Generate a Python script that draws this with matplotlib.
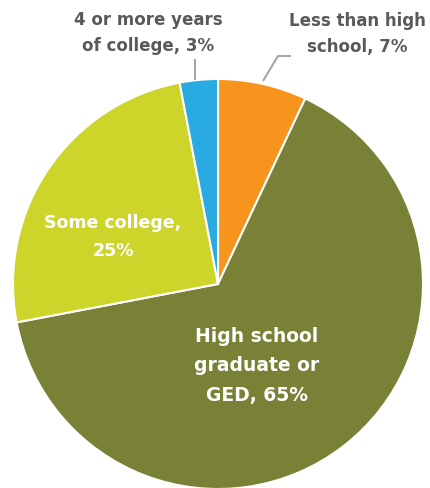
import matplotlib
matplotlib.use("Agg")
import matplotlib.pyplot as plt

categories = ["Less than high\nschool", "High school\ngraduate or\nGED", "Some college", "4 or more years\nof college"]
shares = [7, 65, 25, 3]
colors = ["#F7941D", "#788136", "#CDD42A", "#29ABE2"]

W, H, DPI = 430, 489, 100
fig = plt.figure(figsize=(W / DPI, H / DPI), dpi=DPI)
ax = fig.add_axes([0, 0, 1, 1])

wedges, _ = ax.pie(shares, colors=colors, startangle=90, counterclock=False,
                   radius=1.0, wedgeprops=dict(edgecolor="white", linewidth=1.5))

# pixel layout: centre (218, 285) from top-left, radius 205 px
cx, cy, r = 218, 285, 205
ax.set_xlim(-cx / r, (W - cx) / r)
ax.set_ylim(-(H - cy) / r, cy / r)
ax.axis("off")

def px(x, y):
    return (x - cx) / r, (cy - y) / r

font = dict(family=["DejaVu Sans"], fontweight="bold")
grey = "#595959"

# labels inside the two big slices
ax.text(*px(113, 237), "Some college,\n25%", color="white", fontsize=12.5,
        ha="center", va="center", linespacing=1.7, **font)
ax.text(*px(257, 366), "High school\ngraduate or\nGED, 65%", color="white", fontsize=13.5,
        ha="center", va="center", linespacing=1.7, **font)

# outside labels with leader lines
ax.text(*px(148, 33), "4 or more years\nof college, 3%", color=grey, fontsize=12,
        ha="center", va="center", linespacing=1.55, **font)
ax.text(*px(357, 34), "Less than high\nschool, 7%", color=grey, fontsize=12,
        ha="center", va="center", linespacing=1.55, **font)

lx, ly = zip(px(195, 81), px(195, 60))
ax.plot(lx, ly, color="#A6A6A6", lw=1.5, solid_capstyle="butt")
lx, ly = zip(px(263, 82), px(278, 57), px(291, 57))
ax.plot(lx, ly, color="#A6A6A6", lw=1.5, solid_capstyle="butt")

fig.savefig("out.png", dpi=DPI)
